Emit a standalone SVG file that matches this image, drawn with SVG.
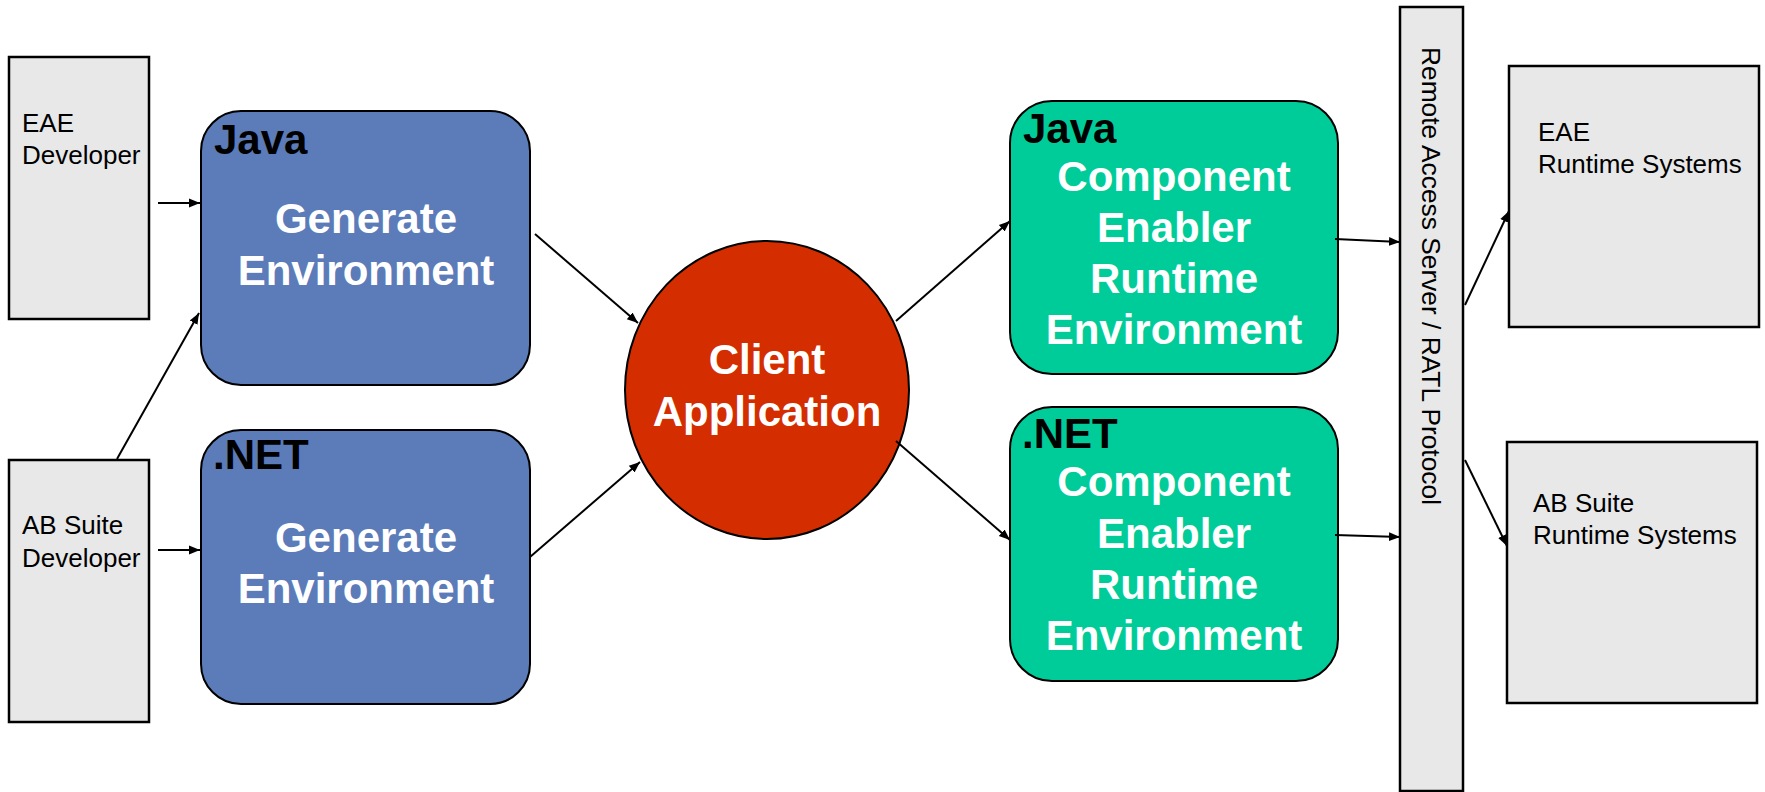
<svg xmlns="http://www.w3.org/2000/svg" width="1765" height="792" viewBox="0 0 1765 792">
<defs>
<marker id="ah" viewBox="0 0 10 10" refX="10" refY="5" markerWidth="11" markerHeight="11" markerUnits="userSpaceOnUse" orient="auto">
<path d="M0,1 L10,5 L0,9 Z" fill="#000"/>
</marker>
</defs>
<style>
.gray{fill:#e8e8e8;stroke:#000;stroke-width:2.5}
.blue{fill:#5b7bb9;stroke:#000;stroke-width:2}
.green{fill:#00cc99;stroke:#000;stroke-width:2}
.red{fill:#d42d00;stroke:#000;stroke-width:2}
.lbl{font-family:"Liberation Sans",Arial,sans-serif;font-size:26px;fill:#000}
.big{font-family:"Liberation Sans",Arial,sans-serif;font-size:42px;font-weight:bold;fill:#fff;text-anchor:middle}
.tag{font-family:"Liberation Sans",Arial,sans-serif;font-size:42px;font-weight:bold;fill:#000}
.conn line{stroke:#000;stroke-width:2;marker-end:url(#ah)}
</style>
<rect width="1765" height="792" fill="#fff"/>

<g id="eae-dev">
<rect class="gray" x="9" y="57" width="140" height="262"/>
<text class="lbl" x="22" y="132">EAE</text>
<text class="lbl" x="22" y="164">Developer</text>
</g>
<g id="ab-dev">
<rect class="gray" x="9" y="460" width="140" height="262"/>
<text class="lbl" x="22" y="534">AB Suite</text>
<text class="lbl" x="22" y="567">Developer</text>
</g>
<g id="java-gen">
<rect class="blue" x="201" y="111" width="329" height="274" rx="40"/>
<text class="tag" x="214" y="154">Java</text>
<text class="big" x="366" y="233">Generate</text>
<text class="big" x="366" y="285">Environment</text>
</g>
<g id="net-gen">
<rect class="blue" x="201" y="430" width="329" height="274" rx="40"/>
<text class="tag" x="213" y="469">.NET</text>
<text class="big" x="366" y="552">Generate</text>
<text class="big" x="366" y="603">Environment</text>
</g>
<g id="client">
<ellipse class="red" cx="767" cy="390" rx="142" ry="149"/>
<text class="big" x="767" y="374">Client</text>
<text class="big" x="767" y="426">Application</text>
</g>
<g id="java-ce">
<rect class="green" x="1010" y="101" width="328" height="273" rx="42"/>
<text class="tag" x="1023" y="143">Java</text>
<text class="big" x="1174" y="191">Component</text>
<text class="big" x="1174" y="242">Enabler</text>
<text class="big" x="1174" y="293">Runtime</text>
<text class="big" x="1174" y="344">Environment</text>
</g>
<g id="net-ce">
<rect class="green" x="1010" y="407" width="328" height="274" rx="42"/>
<text class="tag" x="1022" y="448">.NET</text>
<text class="big" x="1174" y="496">Component</text>
<text class="big" x="1174" y="548">Enabler</text>
<text class="big" x="1174" y="599">Runtime</text>
<text class="big" x="1174" y="650">Environment</text>
</g>
<g id="ras">
<rect class="gray" x="1400" y="7" width="63" height="784"/>
<text class="lbl" transform="translate(1422,47) rotate(90)" textLength="458" lengthAdjust="spacingAndGlyphs">Remote Access Server / RATL Protocol</text>
</g>
<g id="eae-rt">
<rect class="gray" x="1509" y="66" width="250" height="261"/>
<text class="lbl" x="1538" y="141">EAE</text>
<text class="lbl" x="1538" y="173">Runtime Systems</text>
</g>
<g id="ab-rt">
<rect class="gray" x="1507" y="442" width="250" height="261"/>
<text class="lbl" x="1533" y="512">AB Suite</text>
<text class="lbl" x="1533" y="544">Runtime Systems</text>
</g>

<g id="connectors" class="conn">
<line x1="158" y1="203" x2="200" y2="203"/>
<line x1="158" y1="550" x2="200" y2="550"/>
<line x1="117" y1="459" x2="199" y2="313"/>
<line x1="535" y1="234" x2="638" y2="323"/>
<line x1="530" y1="557" x2="640" y2="462"/>
<line x1="896" y1="321" x2="1010" y2="221"/>
<line x1="896" y1="441" x2="1010" y2="540"/>
<line x1="1335" y1="239" x2="1400" y2="242"/>
<line x1="1335" y1="535" x2="1400" y2="537"/>
<line x1="1465" y1="305" x2="1509" y2="211"/>
<line x1="1465" y1="460" x2="1507" y2="546"/>
</g>
</svg>
